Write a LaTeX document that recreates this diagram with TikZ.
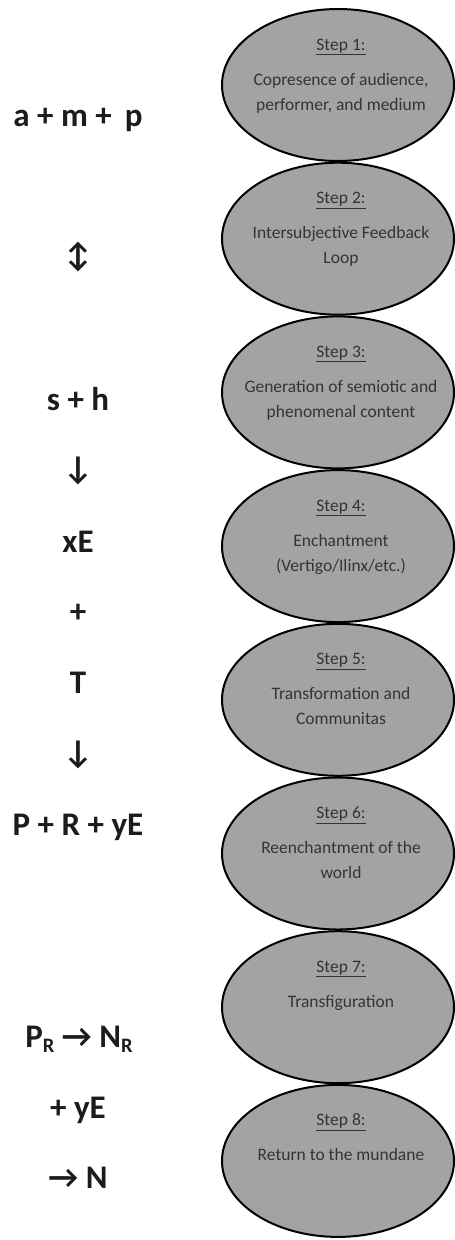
\documentclass[tikz,border=0pt]{standalone}
\usepackage{fontspec}
\setmainfont{Carlito}
\usetikzlibrary{shapes.geometric}
\definecolor{ellfill}{RGB}{163,163,166}
\definecolor{txt}{RGB}{52,52,52}
\definecolor{formcol}{RGB}{28,28,28}
\tikzset{
  stepell/.style={ellipse, draw=black, line width=2pt, fill=ellfill,
    minimum width=232pt, minimum height=152pt, inner sep=0pt},
  steptxt/.style={font=\fontsize{17.5}{21}\selectfont, text=txt, inner sep=0pt, anchor=base},
  formula/.style={font=\fontsize{33}{37}\selectfont\bfseries, text=formcol, inner sep=0pt, anchor=base},
  symb/.style={font=\fontsize{33}{37}\selectfont\bfseries, text=formcol, inner sep=0pt, anchor=center},
}
\newcommand{\sublow}[1]{\raisebox{-5pt}{\fontsize{20.5}{20.5}\selectfont #1}}
\begin{document}
\begin{tikzpicture}[x=1pt,y=-1pt]
\useasboundingbox (0,0) rectangle (455,1240);
% ellipses
\foreach \i in {1,...,8}{
  \node[stepell] (e\i) at (338,{85+153.7*(\i-1)}) {};
}
% step texts
\node[steptxt] (t1) at ([xshift=3pt,yshift=35pt]e1.center) {\underline{Step 1:}};
\node[steptxt] (l1a) at ([xshift=3pt]e1.center) {Copresence of audience,};
\node[steptxt] (l1b) at ([xshift=3pt,yshift=-25pt]e1.center) {performer, and medium};

\node[steptxt] (t2) at ([xshift=3pt,yshift=35pt]e2.center) {\underline{Step 2:}};
\node[steptxt] (l2a) at ([xshift=3pt]e2.center) {Intersubjective Feedback};
\node[steptxt] (l2b) at ([xshift=3pt,yshift=-25pt]e2.center) {Loop};

\node[steptxt] (t3) at ([xshift=3pt,yshift=35pt]e3.center) {\underline{Step 3:}};
\node[steptxt] (l3a) at ([xshift=3pt]e3.center) {Generation of semiotic and};
\node[steptxt] (l3b) at ([xshift=3pt,yshift=-25pt]e3.center) {phenomenal content};

\node[steptxt] (t4) at ([xshift=3pt,yshift=35pt]e4.center) {\underline{Step 4:}};
\node[steptxt] (l4a) at ([xshift=3pt]e4.center) {Enchantment};
\node[steptxt] (l4b) at ([xshift=3pt,yshift=-25pt]e4.center) {(Vertigo/Ilinx/etc.)};

\node[steptxt] (t5) at ([xshift=3pt,yshift=35pt]e5.center) {\underline{Step 5:}};
\node[steptxt] (l5a) at ([xshift=3pt]e5.center) {Transformation and};
\node[steptxt] (l5b) at ([xshift=3pt,yshift=-25pt]e5.center) {Communitas};

\node[steptxt] (t6) at ([xshift=3pt,yshift=35pt]e6.center) {\underline{Step 6:}};
\node[steptxt] (l6a) at ([xshift=3pt]e6.center) {Reenchantment of the};
\node[steptxt] (l6b) at ([xshift=3pt,yshift=-25pt]e6.center) {world};

\node[steptxt] (t7) at ([xshift=3pt,yshift=35pt]e7.center) {\underline{Step 7:}};
\node[steptxt] (l7a) at ([xshift=3pt]e7.center) {Transfiguration};

\node[steptxt] (t8) at ([xshift=3pt,yshift=35pt]e8.center) {\underline{Step 8:}};
\node[steptxt] (l8a) at ([xshift=3pt]e8.center) {Return to the mundane};

% left column
\node[formula] (f1) at (78,126) {a + m +\, p};
\node[symb] (f2) at (78,257) {↕};
\node[formula] (f3) at (78,410) {s + h};
\node[symb] (f4) at (78,471) {↓};
\node[formula] (f5) at (78,552) {xE};
\node[symb] (f6) at (78,613.5) {+};
\node[formula] (f7) at (78,693) {T};
\node[symb] (f8) at (78,755) {↓};
\node[formula] (f9) at (78,835) {P + R + yE};
\node[formula] (f10) at (79,1047) {P\sublow{R} → N\sublow{R}};
\node[formula] (f11) at (78,1118) {+ yE};
\node[formula] (f12) at (78,1188) {→ N};
\end{tikzpicture}
\end{document}
